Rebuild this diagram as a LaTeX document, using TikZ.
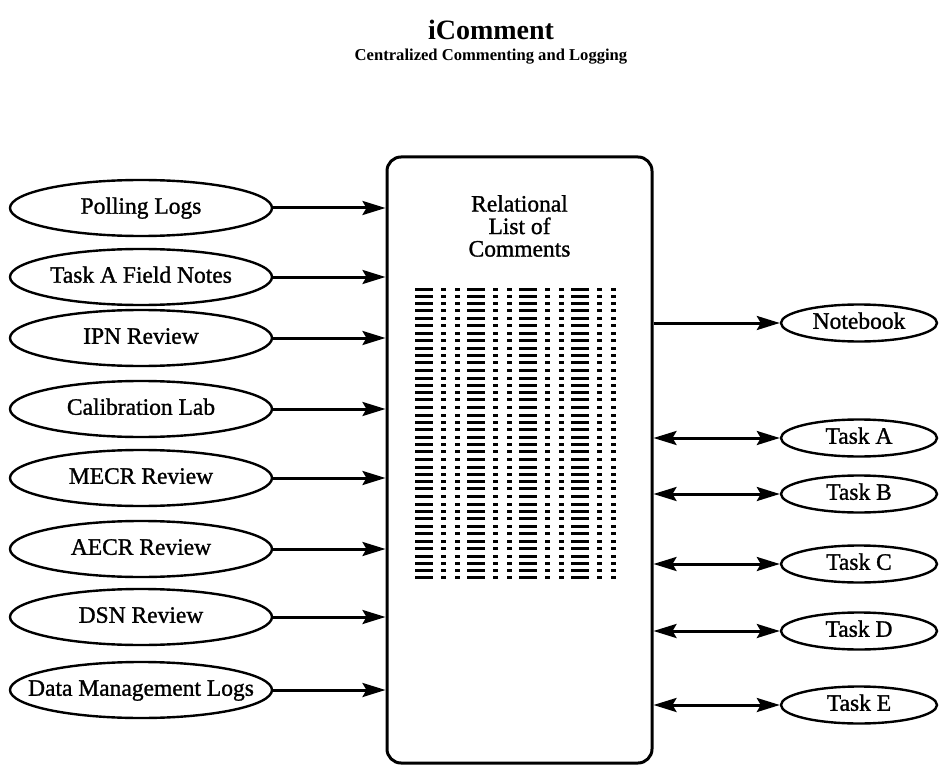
\documentclass[tikz,border=0pt]{standalone}
\usepackage{fontspec}
\setmainfont{Liberation Serif}
\newfontfamily\heavyfont{Liberation Serif}[FakeBold=1.2]
\usetikzlibrary{shapes.geometric,arrows.meta}
\newcommand{\zlbl}[1]{\makebox[0pt]{#1}}
\begin{document}
\begin{tikzpicture}[x=1pt,y=-1pt,
  srcell/.style={draw, line width=2.4pt, ellipse, minimum width=262pt, minimum height=56pt, inner sep=0pt,
    font=\heavyfont\fontsize{23.5}{24}\selectfont, text height=16.5pt, text depth=5pt},
  dstell/.style={draw, line width=2.4pt, ellipse, minimum width=156pt, minimum height=37pt, inner sep=0pt,
    font=\heavyfont\fontsize{23.5}{24}\selectfont, text height=16.5pt, text depth=5pt},
  conn/.style={line width=3pt, -{Stealth[length=23pt,width=14pt,inset=4pt]}},
  dconn/.style={line width=3pt, {Stealth[length=23pt,width=14pt,inset=4pt]}-{Stealth[length=23pt,width=14pt,inset=4pt]}}
]
\useasboundingbox (0,0) rectangle (939,767);
% title
\node[anchor=base, font=\bfseries\fontsize{28}{28}\selectfont] (title) at (491,40) {iComment};
\node[anchor=base, font=\bfseries\fontsize{16.6}{17}\selectfont] (subtitle) at (491,61) {Centralized Commenting and Logging};
% central box
\node[draw, line width=3pt, rounded corners=14pt, minimum width=265pt, minimum height=606pt, inner sep=0pt] (box) at (519.5,460) {};
\node[align=center, font=\heavyfont\fontsize{23.5}{22.5}\selectfont] (rel) at (519.5,226) {Relational\\List of\\Comments};
% dash grid
\foreach \g in {0,...,9}{
  \foreach \r in {0,...,3}{
    \foreach \c in {0,...,3}{
      \pgfmathsetmacro{\yy}{289+\g*29.7+\r*7.2}
      \pgfmathsetmacro{\xx}{415+\c*52}
      \fill (\xx,\yy-1.5) rectangle ++(18,3);
      \fill (\xx+26,\yy-1.5) rectangle ++(5,3);
      \fill (\xx+40,\yy-1.5) rectangle ++(5,3);
    }
  }
}
% sources
\node[srcell] (s1) at (141,208) {\zlbl{Polling Logs}};
\node[srcell] (s2) at (141,277) {\zlbl{Task A Field Notes}};
\node[srcell] (s3) at (141,338) {\zlbl{IPN Review}};
\node[srcell] (s4) at (141,409) {\zlbl{Calibration Lab}};
\node[srcell] (s5) at (141,478) {\zlbl{MECR Review}};
\node[srcell] (s6) at (141,549) {\zlbl{AECR Review}};
\node[srcell] (s7) at (141,617) {\zlbl{DSN Review}};
\node[srcell] (s8) at (141,690) {\zlbl{Data Management Logs}};
\foreach \i in {1,...,8}{
  \draw[conn] (s\i.east) -- (s\i.east -| box.west);
}
% destinations
\node[dstell] (nb) at (859,323) {\zlbl{Notebook}};
\node[dstell] (ta) at (859,438) {\zlbl{Task A}};
\node[dstell] (tb) at (859,494) {\zlbl{Task B}};
\node[dstell] (tc) at (859,564) {\zlbl{Task C}};
\node[dstell] (td) at (859,631) {\zlbl{Task D}};
\node[dstell] (te) at (859,705) {\zlbl{Task E}};
\draw[conn] (nb.west -| box.east) -- (nb.west);
\foreach \n in {ta,tb,tc,td,te}{
  \draw[dconn] (\n.west -| box.east) -- (\n.west);
}
\end{tikzpicture}
\end{document}
